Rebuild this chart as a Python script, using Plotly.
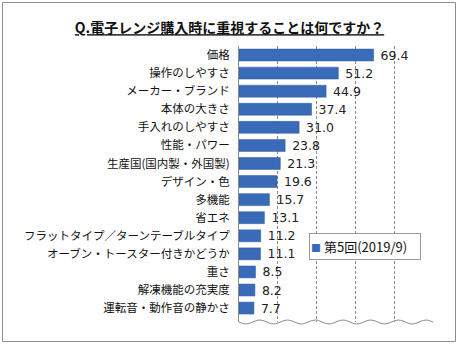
import math
import plotly.graph_objects as go

categories = ["価格", "操作のしやすさ", "メーカー・ブランド", "本体の大きさ", "手入れのしやすさ",
              "性能・パワー", "生産国(国内製・外国製)", "デザイン・色", "多機能", "省エネ",
              "フラットタイプ／ターンテーブルタイプ", "オーブン・トースター付きかどうか", "重さ",
              "解凍機能の充実度", "運転音・動作音の静かさ"]
values = [69.4, 51.2, 44.9, 37.4, 31.0, 23.8, 21.3, 19.6, 15.7, 13.1, 11.2, 11.1, 8.5, 8.2, 7.7]
series_name = "第5回(2019/9)"
title_text = "Q.電子レンジ購入時に重視することは何ですか？"

FONT = "Noto Sans CJK JP"
BAR = "#3A6BB8"

fig = go.Figure()
fig.add_trace(go.Bar(
    y=categories, x=values, orientation="h", name=series_name,
    marker=dict(color=BAR, line=dict(color="#2F5A9E", width=0.5)),
    text=[f" {v:.1f}" for v in values], textposition="outside",
    constraintext="none",
    textfont=dict(family="DejaVu Sans", size=12.5, color="#222222"),
    cliponaxis=False, showlegend=False,
))

# plot area: x 239..433, y 46..322
L, R, T, B = 239, 433, 46, 322
W, H = R - L, B - T


def px_x(p):
    return (p - L) / W


def px_y(p):
    return (B - p) / H


fig.update_layout(
    width=459, height=345,
    margin=dict(l=L, r=459 - R, t=T, b=345 - B),
    paper_bgcolor="white", plot_bgcolor="white",
    bargap=0.34,
    showlegend=False,
    title=dict(text=f"<b><u>{title_text}</u></b>", x=0.5, xanchor="center",
               y=0.918, yanchor="middle",
               font=dict(family=FONT, size=14, color="#111111")),
    xaxis=dict(range=[0, 100], dtick=20, showticklabels=False, ticks="",
               showgrid=True, gridcolor="#8a8a8a", griddash="3px,2px", gridwidth=1,
               zeroline=False, showline=False),
    yaxis=dict(range=[14.77, -0.5], showgrid=False, zeroline=False,
               showline=True, linecolor="#8a8a8a", linewidth=1, ticks="",
               ticklabelstandoff=6,
               tickfont=dict(family=FONT, size=11.5, color="#111111")),
    shapes=[
        dict(type="rect", xref="paper", yref="paper",
             x0=px_x(2.5), x1=px_x(455.5), y0=px_y(341.5), y1=px_y(2.5),
             line=dict(color="#8c8c8c", width=1), layer="above"),
    ],
    annotations=[
        dict(xref="paper", yref="paper", x=px_x(309), y=px_y(233),
             xanchor="left", yanchor="top", showarrow=False,
             text=f"<span style='color:{BAR};font-size:10px'>■</span> {series_name}",
             font=dict(family=FONT, size=13, color="#111111"),
             bgcolor="white", bordercolor="#9a9a9a", borderwidth=1,
             width=108, height=23, borderpad=1, align="left", valign="middle"),
    ],
)

# decorative axis-break squiggle at the bottom of the plot area
pts = []
n_periods = 7
steps = n_periods * 12
for i in range(steps + 1):
    t = i / steps
    pts.append((t, 0.0 - 0.007 * math.sin(t * n_periods * 2 * math.pi)))
path = "M " + " L ".join(f"{x:.4f},{y:.4f}" for x, y in pts)
fig.add_shape(type="path", xref="x domain", yref="y domain", path=path,
              line=dict(color="#8a8a8a", width=1), fillcolor="rgba(0,0,0,0)")

fig.write_html("out.html")
